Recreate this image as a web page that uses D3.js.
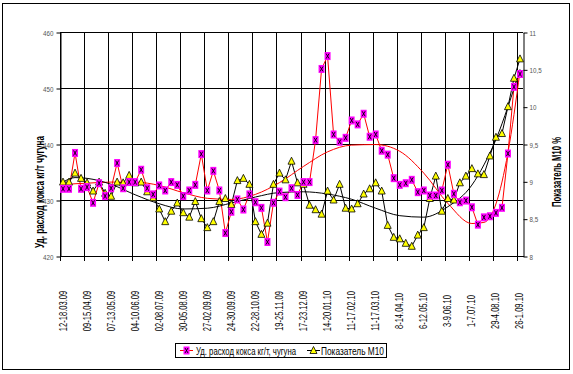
<!DOCTYPE html>
<html>
<head>
<meta charset="utf-8">
<script src="https://cdn.jsdelivr.net/npm/d3@7"></script>
<style>
  body { margin: 0; background: #fff; }
  svg { display: block; }
  text { font-family: "Liberation Sans Narrow", "Arial Narrow", "Liberation Sans", sans-serif; }
</style>
</head>
<body>
<svg id="chart" width="573" height="374"></svg>
<script>
// weekly values, one per week from 12-18.03.09 to 26-1.09.10
var coke = [432.0, 432.0, 438.4, 432.0, 432.3, 429.5, 433.0, 430.7, 432.1, 436.6,
  432.1, 433.2, 433.2, 435.4, 432.1, 431.0, 432.6, 431.7, 433.2, 432.7,
  430.7, 431.7, 432.7, 438.2, 431.7, 435.2, 431.7, 424.1, 427.9, 430.1,
  428.3, 431.0, 429.6, 428.6, 422.5, 429.5, 431.5, 430.5, 432.1, 430.9,
  433.2, 433.2, 440.7, 453.4, 455.7, 441.7, 440.4, 441.1, 444.2, 443.5,
  445.4, 441.3, 441.7, 438.8, 438.1, 433.9, 432.7, 433.0, 433.6, 431.4,
  431.7, 430.8, 430.8, 431.7, 436.3, 431.1, 429.6, 429.9, 428.7, 425.6,
  426.9, 427.1, 427.7, 428.6, 438.3, 450.2, 452.5];

var m10 = [8.99, 8.99, 9.11, 9.04, 8.98, 8.87, 8.99, 8.84, 8.80, 8.99,
  8.98, 9.08, 8.98, 8.99, 8.86, 8.78, 8.63, 8.46, 8.60, 8.71,
  8.58, 8.52, 8.73, 8.50, 8.38, 8.46, 8.73, 8.77, 8.69, 9.01,
  9.04, 8.96, 8.46, 8.29, 8.44, 8.96, 9.11, 9.02, 9.27, 8.98,
  8.96, 8.68, 8.62, 8.56, 8.87, 8.75, 8.96, 8.64, 8.63, 8.70,
  8.83, 8.90, 8.98, 8.87, 8.41, 8.25, 8.23, 8.17, 8.13, 8.28,
  8.38, 8.77, 9.07, 8.60, 8.77, 8.75, 8.98, 9.07, 9.17, 9.10,
  9.09, 9.34, 9.59, 9.64, 10.00, 10.38, 10.64];

// trend lines at these week indexes
var trendIdx = [0, 2, 4, 8, 12, 16, 20, 24, 28, 32, 36, 40, 44, 48, 52, 56, 60, 64, 68, 70, 72, 74, 76];
var cokeTrend = [432.7, 432.9, 433.0, 433.2, 433.2, 432.6, 431.3, 430.3, 430.1, 431.0, 433.1, 436.0,
  438.6, 439.8, 439.9, 438.7, 434.8, 429.4, 425.8, 426.0, 429.3, 438.5, 453.0];
var m10Trend = [8.99, 9.05, 9.04, 8.96, 8.82, 8.70, 8.63, 8.64, 8.71, 8.79, 8.85, 8.86,
  8.83, 8.76, 8.64, 8.54, 8.52, 8.66, 8.95, 9.22, 9.56, 10.0, 10.5];

// a label every 4 weeks
var tickLabels = ["12-18.03.09", "09-15.04.09", "07-13.05.09", "04-10.06.09", "02-08.07.09",
  "30-05.08.09", "27-02.09.09", "24-30.09.09", "22-28.10.09", "19-25.11.09",
  "17-23.12.09", "14-20.01.10", "11-17.02.10", "11-17.03.10", "8-14.04.10",
  "6-12.05.10", "3-9.06.10", "1-7.07.10", "29-4.08.10", "26-1.09.10"];
var leftTicks = [420, 430, 440, 450, 460];
var rightTicks = [8, 8.5, 9, 9.5, 10, 10.5, 11];

var plot = {left: 60, right: 523, top: 32, bottom: 256};
var narrow = 0.72; // squeeze, no narrow font installed

var svg = d3.select("#chart");

// squeeze a text to a given width (keeps its box honest)
function fitText(sel, tx, ty, rot, width) {
  var w = sel.node().getComputedTextLength();
  sel.attr("transform", "translate(" + tx + "," + ty + ")" + (rot ? " rotate(" + rot + ")" : "") +
    " scale(" + (width / w) + ",1)");
}

// outer frame
svg.append("rect")
  .attr("x", 2.5).attr("y", 3.5)
  .attr("width", 567).attr("height", 366)
  .attr("fill", "none").attr("stroke", "#000");

var x = d3.scaleBand()
  .domain(d3.range(coke.length))
  .range([plot.left, plot.right])
  .padding(0);
function cx(i) { return x(i) + x.bandwidth() / 2; }

var yL = d3.scaleLinear().domain([420, 460]).range([plot.bottom, plot.top]);
var yR = d3.scaleLinear().domain([8, 11]).range([plot.bottom, plot.top]);

//grid
svg.append("g").selectAll("line")
  .data(leftTicks)
  .join("line")
  .attr("x1", plot.left).attr("x2", plot.right)
  .attr("y1", function(d) { return Math.round(yL(d)) + 0.5; })
  .attr("y2", function(d) { return Math.round(yL(d)) + 0.5; })
  .attr("stroke", "#000");

svg.append("g").selectAll("line")
  .data(tickLabels)
  .join("line")
  .attr("x1", function(d, k) { return Math.round(x(4 * k)) + 0.5; })
  .attr("x2", function(d, k) { return Math.round(x(4 * k)) + 0.5; })
  .attr("y1", plot.top).attr("y2", plot.bottom + 5)
  .attr("stroke", "#000");

//axes
var axL = svg.append("g")
  .attr("transform", "translate(" + (plot.left + 0.5) + ",0.5)")
  .call(d3.axisLeft(yL).tickValues(leftTicks).tickSize(4).tickSizeOuter(0).tickPadding(3));
var axR = svg.append("g")
  .attr("transform", "translate(" + (plot.right + 0.5) + ",0.5)")
  .call(d3.axisRight(yR).tickValues(rightTicks).tickSize(4).tickSizeOuter(0).tickPadding(2)
    .tickFormat(function(d) { return String(d).replace(".", ","); }));
[axL, axR].forEach(function(a) {
  a.selectAll("path, line").attr("stroke", "#000");
  a.selectAll("text").attr("font-size", "8px").attr("fill", "#555")
    .style("font-family", "'Liberation Sans Narrow', 'Arial Narrow', 'Liberation Sans', sans-serif");
});
axL.selectAll(".tick text").attr("transform", "scale(0.78,1)").attr("x", -7 / 0.78);
axR.selectAll(".tick text").attr("transform", "scale(0.78,1)").attr("x", 6 / 0.78);

svg.append("line")
  .attr("x1", plot.left).attr("x2", plot.right + 1)
  .attr("y1", plot.bottom + 0.5).attr("y2", plot.bottom + 0.5)
  .attr("stroke", "#000");

svg.append("g").selectAll("text")
  .data(tickLabels)
  .join("text")
  .attr("transform", function(d, k) {
    return "translate(" + (cx(4 * k) + 3.5) + ",311) rotate(-90) scale(" + narrow + ",1)";
  })
  .attr("text-anchor", "middle")
  .attr("font-size", "10.5px")
  .attr("fill", "#000")
  .text(function(d) { return d; });

// axis titles
svg.append("text")
  .attr("text-anchor", "middle")
  .attr("font-size", "13px")
  .attr("font-weight", "bold")
  .text("Уд. расход кокса кг/т чугуна")
  .call(fitText, 44, 192, -90, 112);
svg.append("text")
  .attr("text-anchor", "middle")
  .attr("font-size", "12.5px")
  .attr("font-weight", "bold")
  .text("Показатель М10 %")
  .call(fitText, 561, 172, -90, 70);

// series lines
var lineL = d3.line().x(function(d, i) { return cx(i); }).y(function(d) { return yL(d); });
var lineR = d3.line().x(function(d, i) { return cx(i); }).y(function(d) { return yR(d); });

svg.append("path").datum(coke)
  .attr("d", lineL).attr("fill", "none").attr("stroke", "#ff0000").attr("stroke-width", 1);
svg.append("path").datum(m10)
  .attr("d", lineR).attr("fill", "none").attr("stroke", "#000").attr("stroke-width", 1);

// trend lines
var trendL = d3.line().curve(d3.curveMonotoneX)
  .x(function(d, j) { return cx(trendIdx[j]); }).y(function(d) { return yL(d); });
var trendR = d3.line().curve(d3.curveMonotoneX)
  .x(function(d, j) { return cx(trendIdx[j]); }).y(function(d) { return yR(d); });

svg.append("path").datum(cokeTrend)
  .attr("d", trendL).attr("fill", "none").attr("stroke", "#ff0000").attr("stroke-width", 1);
svg.append("path").datum(m10Trend)
  .attr("d", trendR).attr("fill", "none").attr("stroke", "#000").attr("stroke-width", 1);

// markers
function squareMark(sel) {
  sel.append("rect")
    .attr("x", -3).attr("y", -4).attr("width", 6).attr("height", 8)
    .attr("fill", "#ff00ff");
  sel.append("path")
    .attr("d", "M-1.5,-2.5L1.5,2.5M1.5,-2.5L-1.5,2.5")
    .attr("stroke", "#000").attr("stroke-width", 0.9);
}
function triMark(sel) {
  sel.append("path")
    .attr("d", "M0,-4L3.5,3L-3.5,3Z")
    .attr("fill", "#ffff00").attr("stroke", "#000").attr("stroke-width", 0.8);
}

svg.append("g").selectAll("g")
  .data(m10)
  .join("g")
  .attr("transform", function(d, i) { return "translate(" + cx(i) + "," + yR(d) + ")"; })
  .call(triMark);

svg.append("g").selectAll("g")
  .data(coke)
  .join("g")
  .attr("transform", function(d, i) { return "translate(" + cx(i) + "," + yL(d) + ")"; })
  .call(squareMark);

// legend
var lg = svg.append("g").attr("transform", "translate(175,343)");
lg.append("rect")
  .attr("x", 0.5).attr("y", 0.5).attr("width", 211).attr("height", 14)
  .attr("fill", "#fff").attr("stroke", "#000");

lg.append("line").attr("x1", 5).attr("x2", 18).attr("y1", 7.5).attr("y2", 7.5)
  .attr("stroke", "#ff0000");
lg.append("g").attr("transform", "translate(11.5,7.5)").call(squareMark);
lg.append("text").attr("font-size", "11px")
  .text("Уд. расход кокса кг/т, чугуна")
  .call(fitText, 21, 11.5, 0, 100);

lg.append("line").attr("x1", 132).attr("x2", 145).attr("y1", 7.5).attr("y2", 7.5)
  .attr("stroke", "#000");
lg.append("g").attr("transform", "translate(138.5,7.5)").call(triMark);
lg.append("text").attr("font-size", "11px")
  .text("Показатель  М10")
  .call(fitText, 146, 11.5, 0, 63);
</script>
</body>
</html>
